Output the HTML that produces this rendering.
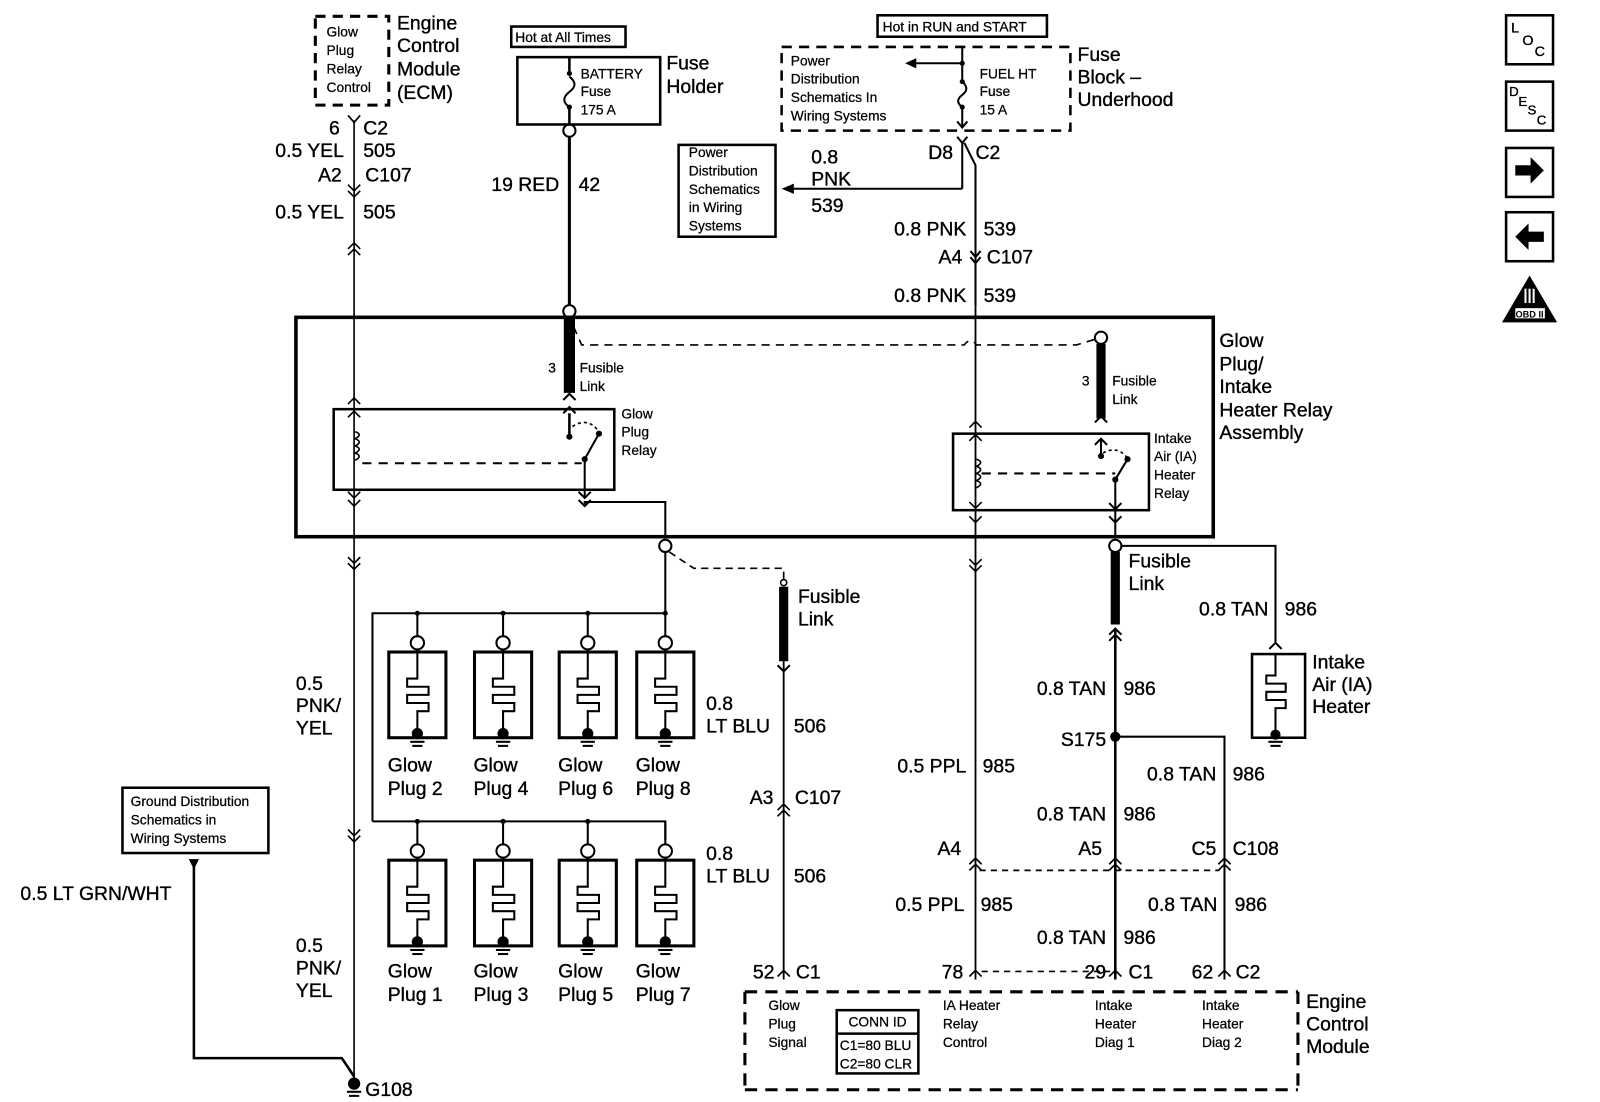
<!DOCTYPE html>
<html><head><meta charset="utf-8"><style>
html,body{margin:0;padding:0;background:#fff;}
svg{display:block;}
text{font-family:"Liberation Sans",Arial,sans-serif;fill:#000;stroke:#000;stroke-width:0.35;}
.L{font-size:19px;}
.S{font-size:13.5px;stroke-width:0.25;}
.M{font-size:14.5px;}
</style></head><body>
<svg width="1600" height="1102" viewBox="0 0 1568 1080" xmlns="http://www.w3.org/2000/svg">
<g fill="none" stroke="#000" stroke-width="1.6">

<rect x="309" y="16" width="72" height="87" stroke-width="3" stroke-dasharray="10,7"/>
<line x1="347" y1="118" x2="347" y2="1062"/>
<path d="M341 113 L347 120 L353 113"/>
<path d="M341 181 L347 187 L353 181 M341 187 L347 193 L353 187"/>
<path d="M341 244 L347 238 L353 244 M341 250 L347 244 L353 250"/>
<path d="M341 396 L347 390 L353 396 M341 409 L347 403 L353 409"/>
<path d="M341 482 L347 488 L353 482 M341 490 L347 496 L353 490"/>
<path d="M341 546 L347 552 L353 546 M341 552 L347 558 L353 552"/>
<path d="M341 813 L347 819 L353 813 M341 819 L347 825 L353 819"/>
<path d="M348 423 q8 3 0 7 q8 3 0 7 q8 3 0 7 q8 3 0 7"/>

<rect x="501" y="26" width="112" height="20" stroke-width="2.5"/>
<rect x="507" y="56" width="140" height="66" stroke-width="2.5"/>
<line x1="558" y1="56" x2="558" y2="72" stroke-width="2.5"/>
<path d="M558 75 q10 8 0 15 q-10 8 0 15" stroke-width="2"/>
<line x1="558" y1="105" x2="558" y2="122" stroke-width="2.5"/>
<circle cx="558" cy="128" r="6" stroke-width="2"/>
<line x1="558" y1="134" x2="558" y2="299" stroke-width="3"/>
<circle cx="558" cy="305" r="6" stroke-width="2"/>
<line x1="558" y1="311" x2="558" y2="385" stroke-width="11"/>
<path d="M552 392 L558 386 L564 392 M552 405 L558 399 L564 405" stroke-width="2"/>
<line x1="558" y1="405" x2="558" y2="425" stroke-width="2.5"/>

<rect x="860" y="15" width="166" height="21" stroke-width="2.5"/>
<rect x="766" y="46" width="283" height="82" stroke-width="2.5" stroke-dasharray="10,7"/>
<line x1="943" y1="46" x2="943" y2="80" stroke-width="2"/>
<line x1="943" y1="62" x2="898" y2="62" stroke-width="2"/>
<path d="M943 80 q8 7 0 13 q-8 6 0 12" stroke-width="2"/>
<line x1="943" y1="105" x2="943" y2="125" stroke-width="2"/>
<path d="M938 119 L943 125 L948 119 M938 134 L943 140 L948 134" stroke-width="2"/>
<line x1="943" y1="140" x2="943" y2="185" stroke-width="2"/>
<line x1="943" y1="185" x2="778" y2="185" stroke-width="2"/>
<path d="M945 140 L956 162 L956 300" stroke-width="2"/>
<path d="M951 246 L956 252 L961 246 M951 252 L956 258 L961 252" stroke-width="2"/>
<line x1="956" y1="300" x2="956" y2="960" stroke-width="1.8"/>
<path d="M950 419 L956 413 L962 419 M950 432 L956 426 L962 432"/>
<path d="M950 492 L956 498 L962 492 M950 506 L956 512 L962 506"/>
<path d="M950 548 L956 554 L962 548 M950 554 L956 560 L962 554"/>
<path d="M950 847 L956 841 L962 847 M950 853 L956 847 L962 853"/>
<path d="M950 957 L956 951 L962 957"/>
<path d="M957 450 q8 3 0 7 q8 3 0 7 q8 3 0 7 q8 3 0 7"/>

<rect x="665" y="142" width="95" height="90" stroke-width="2.5"/>

<rect x="290" y="311" width="899" height="215" stroke-width="3.5"/>
<rect x="327" y="401" width="275" height="79" stroke-width="2.5"/>
<rect x="934" y="425" width="192" height="75" stroke-width="2.5"/>
<path d="M558 415 L558 428" stroke-width="2"/>
<path d="M573 450 L587 425" stroke-width="2"/>
<line x1="573" y1="450" x2="573" y2="488" stroke-width="2"/>
<path d="M567 482 L573 488 L579 482 M567 490 L573 496 L579 490" stroke-width="2"/>
<path d="M573 496 V492 H652 V528" stroke-width="2"/>
<path d="M561 418 q15 -10 26 5" stroke-dasharray="3,3"/>
<line x1="355" y1="454" x2="570" y2="454" stroke-width="2" stroke-dasharray="9,7"/>
<path d="M562 320 L570 338 H945 q6 -8 12 0 H1055 L1075 332" stroke-width="1.6" stroke-dasharray="8,6"/>
<circle cx="1079" cy="331" r="6" stroke-width="2"/>
<line x1="1079" y1="337" x2="1079" y2="410" stroke-width="9"/>
<path d="M1073 414 L1079 408 L1085 414 M1073 436 L1079 430 L1085 436" stroke-width="2"/>
<line x1="1079" y1="430" x2="1079" y2="447" stroke-width="2"/>
<path d="M1093 470 L1105 450" stroke-width="2"/>
<line x1="1093" y1="470" x2="1093" y2="500" stroke-width="2"/>
<path d="M1087 493 L1093 499 L1099 493 M1087 506 L1093 512 L1099 506" stroke-width="2"/>
<line x1="1093" y1="500" x2="1093" y2="528" stroke-width="2"/>
<path d="M1081 444 q14 -8 24 5" stroke-dasharray="3,3"/>
<line x1="962" y1="464" x2="1093" y2="464" stroke-width="2" stroke-dasharray="9,7"/>

<circle cx="652" cy="535" r="6" stroke-width="2"/>
<line x1="652" y1="541" x2="652" y2="601" stroke-width="2"/>
<path d="M365 805 V601 H652" stroke-width="2"/>
<path d="M365 805 H652 V823" stroke-width="2"/>
<path d="M656 541 L680 557 H768 V568" stroke-dasharray="7,5"/>
<circle cx="768" cy="571" r="3" stroke-width="1.5"/>
<line x1="768" y1="575" x2="768" y2="648" stroke-width="9"/>
<path d="M762 652 L768 658 L774 652" stroke-width="2"/>
<line x1="768" y1="648" x2="768" y2="960" stroke-width="1.8"/>
<path d="M762 794 L768 788 L774 794 M762 800 L768 794 L774 800"/>
<path d="M762 957 L768 951 L774 957"/>

<circle cx="1093" cy="535" r="6" stroke-width="2"/>
<path d="M1099 535 H1250 V630" stroke-width="2"/>
<path d="M1244 636 L1250 630 L1256 636" stroke-width="2"/>
<line x1="1093" y1="541" x2="1093" y2="612" stroke-width="9"/>
<path d="M1087 622 L1093 616 L1099 622 M1087 628 L1093 622 L1099 628" stroke-width="2"/>
<line x1="1093" y1="616" x2="1093" y2="960" stroke-width="2.5"/>
<path d="M1093 722 H1200 V960" stroke-width="2"/>
<path d="M1087 847 L1093 841 L1099 847 M1087 853 L1093 847 L1099 853"/>
<path d="M1194 847 L1200 841 L1206 847 M1194 853 L1200 847 L1206 853"/>
<path d="M1087 957 L1093 951 L1099 957"/>
<path d="M1194 957 L1200 951 L1206 957"/>
<line x1="960" y1="853" x2="1195" y2="853" stroke-dasharray="6,5"/>
<line x1="962" y1="952" x2="1088" y2="952" stroke-dasharray="6,5"/>
<rect x="1227" y="641" width="52" height="82" stroke-width="2.5"/>
<path d="M1250 641 V662 H1241 V670 H1260 V678 H1241 V686 H1260 V694 H1250 V719" stroke-width="2"/>

<path d="M730 972 H1272 M730 972 V1068 M1272 972 V1068 M730 1068 H1272" stroke-width="3" stroke-dasharray="12,8"/>
<rect x="820" y="990" width="80" height="62" stroke-width="2.5"/>
<line x1="820" y1="1013" x2="900" y2="1013" stroke-width="2.5"/>

<rect x="120" y="772" width="143" height="64" stroke-width="2.5"/>
<path d="M190 848 V1037 H335 L347 1055" stroke-width="2.5"/>

<rect x="1476" y="15" width="46" height="48" stroke-width="2.5"/>
<rect x="1476" y="80" width="46" height="48" stroke-width="2.5"/>
<rect x="1476" y="145" width="46" height="48" stroke-width="2.5"/>
<rect x="1476" y="208" width="46" height="48" stroke-width="2.5"/>
</g>

<g fill="#000" stroke="none">
<polygon points="898,57 887,62 898,67"/>
<polygon points="778,180 766,185 778,190"/>
<polygon points="185,842 195,842 190,852"/>
<circle cx="558" cy="72" r="2.5"/><circle cx="558" cy="105" r="2.5"/>
<circle cx="943" cy="62" r="2.5"/><circle cx="943" cy="80" r="2.5"/><circle cx="943" cy="105" r="2.5"/>
<circle cx="558" cy="428" r="3"/><circle cx="587" cy="425" r="3"/><circle cx="573" cy="450" r="3"/>
<circle cx="1079" cy="447" r="3"/><circle cx="1105" cy="450" r="3"/><circle cx="1093" cy="470" r="3"/>
<circle cx="1093" cy="722" r="5"/>
<circle cx="347" cy="1062" r="6"/>
<rect x="340" y="1069" width="14" height="2"/><rect x="342" y="1073" width="10" height="2"/>
<circle cx="1250" cy="720" r="5"/><rect x="1243" y="726" width="14" height="2"/><rect x="1245" y="730" width="10" height="2"/>
<polygon points="1485,162 1500,162 1500,154 1513,167 1500,180 1500,172 1485,172"/>
<polygon points="1513,227 1498,227 1498,219 1485,232 1498,245 1498,237 1513,237"/>
<polygon points="1499,270 1526,316 1472,316"/>
<circle cx="409" cy="601" r="2.5"/><circle cx="493" cy="601" r="2.5"/><circle cx="576" cy="601" r="2.5"/><circle cx="652" cy="601" r="2.5"/>
<circle cx="409" cy="805" r="2.5"/><circle cx="493" cy="805" r="2.5"/><circle cx="576" cy="805" r="2.5"/>
</g>
<rect x="1485" y="302" width="29" height="10" fill="#fff"/>
<text x="1499" y="311" font-size="9" text-anchor="middle" font-weight="bold" style="stroke-width:0">OBD II</text>
<rect x="1494" y="283" width="10" height="14" fill="#fff"/>
<rect x="1496" y="283" width="2" height="14" fill="#000"/><rect x="1500" y="283" width="2" height="14" fill="#000"/>
<text x="1481" y="32" font-size="14">L</text><text x="1492" y="44" font-size="14">O</text><text x="1504" y="55" font-size="14">C</text>
<text x="1479" y="94" font-size="13">D</text><text x="1488" y="104" font-size="13">E</text><text x="1497" y="112" font-size="13">S</text><text x="1506" y="122" font-size="13">C</text>

<g fill="none" stroke="#000" stroke-width="2">
<g id="gp">
<line x1="409" y1="601" x2="409" y2="623"/>
<circle cx="409" cy="630" r="6.5"/>
<rect x="381" y="639" width="56" height="84" stroke-width="3"/>
<path d="M409 637 V665 H399 V673 H420 V681 H399 V689 H420 V697 H409 V718"/>
</g>
<use href="#gp" x="84"/><use href="#gp" x="167"/><use href="#gp" x="243"/>
<use href="#gp" y="204"/><use href="#gp" x="84" y="204"/><use href="#gp" x="167" y="204"/><use href="#gp" x="243" y="204"/>
</g>
<g fill="#000">
<g id="gg"><circle cx="409" cy="719" r="5.5"/><rect x="402" y="726" width="14" height="2"/><rect x="404" y="730" width="10" height="2"/></g>
<use href="#gg" x="84"/><use href="#gg" x="167"/><use href="#gg" x="243"/>
<use href="#gg" y="204"/><use href="#gg" x="84" y="204"/><use href="#gg" x="167" y="204"/><use href="#gg" x="243" y="204"/>
</g>

<text class="S" x="320" y="36">Glow</text>
<text class="S" x="320" y="54">Plug</text>
<text class="S" x="320" y="72">Relay</text>
<text class="S" x="320" y="90">Control</text>
<text class="L" x="389" y="29">Engine</text>
<text class="L" x="389" y="51">Control</text>
<text class="L" x="389" y="74">Module</text>
<text class="L" x="389" y="97">(ECM)</text>
<text class="L" x="333" y="132" text-anchor="end">6</text>
<text class="L" x="356" y="132">C2</text>
<text class="L" x="337" y="154" text-anchor="end">0.5 YEL</text>
<text class="L" x="356" y="154">505</text>
<text class="L" x="335" y="178" text-anchor="end">A2</text>
<text class="L" x="358" y="178">C107</text>
<text class="L" x="337" y="214" text-anchor="end">0.5 YEL</text>
<text class="L" x="356" y="214">505</text>
<text class="L" x="290" y="676">0.5</text>
<text class="L" x="290" y="698">PNK/</text>
<text class="L" x="290" y="720">YEL</text>
<text class="L" x="290" y="933">0.5</text>
<text class="L" x="290" y="955">PNK/</text>
<text class="L" x="290" y="977">YEL</text>
<text class="L" x="20" y="882">0.5 LT GRN/WHT</text>
<text class="L" x="358" y="1074">G108</text>
<text class="S" x="128" y="790">Ground Distribution</text>
<text class="S" x="128" y="808">Schematics in</text>
<text class="S" x="128" y="826">Wiring Systems</text>

<text class="S" x="505" y="41">Hot at All Times</text>
<text class="S" x="569" y="77">BATTERY</text>
<text class="S" x="569" y="94">Fuse</text>
<text class="S" x="569" y="112">175 A</text>
<text class="L" x="653" y="68">Fuse</text>
<text class="L" x="653" y="91">Holder</text>
<text class="L" x="548" y="187" text-anchor="end">19 RED</text>
<text class="L" x="567" y="187">42</text>
<text class="S" x="541" y="365" text-anchor="middle">3</text>
<text class="S" x="568" y="365">Fusible</text>
<text class="S" x="568" y="383">Link</text>
<text class="S" x="609" y="410">Glow</text>
<text class="S" x="609" y="428">Plug</text>
<text class="S" x="609" y="446">Relay</text>

<text class="S" x="865" y="31">Hot in RUN and START</text>
<text class="S" x="775" y="64">Power</text>
<text class="S" x="775" y="82">Distribution</text>
<text class="S" x="775" y="100">Schematics In</text>
<text class="S" x="775" y="118">Wiring Systems</text>
<text class="S" x="960" y="77">FUEL HT</text>
<text class="S" x="960" y="94">Fuse</text>
<text class="S" x="960" y="112">15 A</text>
<text class="L" x="1056" y="60">Fuse</text>
<text class="L" x="1056" y="82">Block –</text>
<text class="L" x="1056" y="104">Underhood</text>
<text class="L" x="934" y="156" text-anchor="end">D8</text>
<text class="L" x="956" y="156">C2</text>
<text class="L" x="795" y="160">0.8</text>
<text class="L" x="795" y="182">PNK</text>
<text class="L" x="795" y="208">539</text>
<text class="S" x="675" y="154">Power</text>
<text class="S" x="675" y="172">Distribution</text>
<text class="S" x="675" y="190">Schematics</text>
<text class="S" x="675" y="208">in Wiring</text>
<text class="S" x="675" y="226">Systems</text>
<text class="L" x="947" y="231" text-anchor="end">0.8 PNK</text>
<text class="L" x="964" y="231">539</text>
<text class="L" x="943" y="258" text-anchor="end">A4</text>
<text class="L" x="967" y="258">C107</text>
<text class="L" x="947" y="296" text-anchor="end">0.8 PNK</text>
<text class="L" x="964" y="296">539</text>

<text class="L" x="1195" y="340">Glow</text>
<text class="L" x="1195" y="363">Plug/</text>
<text class="L" x="1195" y="385">Intake</text>
<text class="L" x="1195" y="408">Heater Relay</text>
<text class="L" x="1195" y="430">Assembly</text>
<text class="S" x="1064" y="378" text-anchor="middle">3</text>
<text class="S" x="1090" y="378">Fusible</text>
<text class="S" x="1090" y="396">Link</text>
<text class="S" x="1131" y="434">Intake</text>
<text class="S" x="1131" y="452">Air (IA)</text>
<text class="S" x="1131" y="470">Heater</text>
<text class="S" x="1131" y="488">Relay</text>

<text class="L" x="782" y="591">Fusible</text>
<text class="L" x="782" y="613">Link</text>
<text class="L" x="692" y="696">0.8</text>
<text class="L" x="692" y="718">LT BLU</text>
<text class="L" x="778" y="718">506</text>
<text class="L" x="758" y="788" text-anchor="end">A3</text>
<text class="L" x="779" y="788">C107</text>
<text class="L" x="692" y="843">0.8</text>
<text class="L" x="692" y="865">LT BLU</text>
<text class="L" x="778" y="865">506</text>
<text class="L" x="380" y="756">Glow</text><text class="L" x="380" y="779">Plug 2</text>
<text class="L" x="464" y="756">Glow</text><text class="L" x="464" y="779">Plug 4</text>
<text class="L" x="547" y="756">Glow</text><text class="L" x="547" y="779">Plug 6</text>
<text class="L" x="623" y="756">Glow</text><text class="L" x="623" y="779">Plug 8</text>
<text class="L" x="380" y="958">Glow</text><text class="L" x="380" y="981">Plug 1</text>
<text class="L" x="464" y="958">Glow</text><text class="L" x="464" y="981">Plug 3</text>
<text class="L" x="547" y="958">Glow</text><text class="L" x="547" y="981">Plug 5</text>
<text class="L" x="623" y="958">Glow</text><text class="L" x="623" y="981">Plug 7</text>

<text class="L" x="1106" y="556">Fusible</text>
<text class="L" x="1106" y="578">Link</text>
<text class="L" x="1243" y="603" text-anchor="end">0.8 TAN</text>
<text class="L" x="1259" y="603">986</text>
<text class="L" x="1286" y="655">Intake</text>
<text class="L" x="1286" y="677">Air (IA)</text>
<text class="L" x="1286" y="699">Heater</text>
<text class="L" x="1084" y="681" text-anchor="end">0.8 TAN</text>
<text class="L" x="1101" y="681">986</text>
<text class="L" x="1084" y="731" text-anchor="end">S175</text>
<text class="L" x="947" y="757" text-anchor="end">0.5 PPL</text>
<text class="L" x="963" y="757">985</text>
<text class="L" x="1192" y="765" text-anchor="end">0.8 TAN</text>
<text class="L" x="1208" y="765">986</text>
<text class="L" x="1084" y="804" text-anchor="end">0.8 TAN</text>
<text class="L" x="1101" y="804">986</text>
<text class="L" x="942" y="838" text-anchor="end">A4</text>
<text class="L" x="1080" y="838" text-anchor="end">A5</text>
<text class="L" x="1192" y="838" text-anchor="end">C5</text>
<text class="L" x="1208" y="838">C108</text>
<text class="L" x="945" y="893" text-anchor="end">0.5 PPL</text>
<text class="L" x="961" y="893">985</text>
<text class="L" x="1193" y="893" text-anchor="end">0.8 TAN</text>
<text class="L" x="1210" y="893">986</text>
<text class="L" x="1084" y="925" text-anchor="end">0.8 TAN</text>
<text class="L" x="1101" y="925">986</text>
<text class="L" x="759" y="959" text-anchor="end">52</text>
<text class="L" x="780" y="959">C1</text>
<text class="L" x="944" y="959" text-anchor="end">78</text>
<text class="L" x="1084" y="959" text-anchor="end">29</text>
<text class="L" x="1106" y="959">C1</text>
<text class="L" x="1189" y="959" text-anchor="end">62</text>
<text class="L" x="1211" y="959">C2</text>

<text class="S" x="753" y="990">Glow</text>
<text class="S" x="753" y="1008">Plug</text>
<text class="S" x="753" y="1026">Signal</text>
<text class="S" x="860" y="1006" text-anchor="middle">CONN ID</text>
<text class="S" x="823" y="1029">C1=80 BLU</text>
<text class="S" x="823" y="1047">C2=80 CLR</text>
<text class="S" x="924" y="990">IA Heater</text>
<text class="S" x="924" y="1008">Relay</text>
<text class="S" x="924" y="1026">Control</text>
<text class="S" x="1073" y="990">Intake</text>
<text class="S" x="1073" y="1008">Heater</text>
<text class="S" x="1073" y="1026">Diag 1</text>
<text class="S" x="1178" y="990">Intake</text>
<text class="S" x="1178" y="1008">Heater</text>
<text class="S" x="1178" y="1026">Diag 2</text>
<text class="L" x="1280" y="988">Engine</text>
<text class="L" x="1280" y="1010">Control</text>
<text class="L" x="1280" y="1032">Module</text>
</svg>
</body></html>
